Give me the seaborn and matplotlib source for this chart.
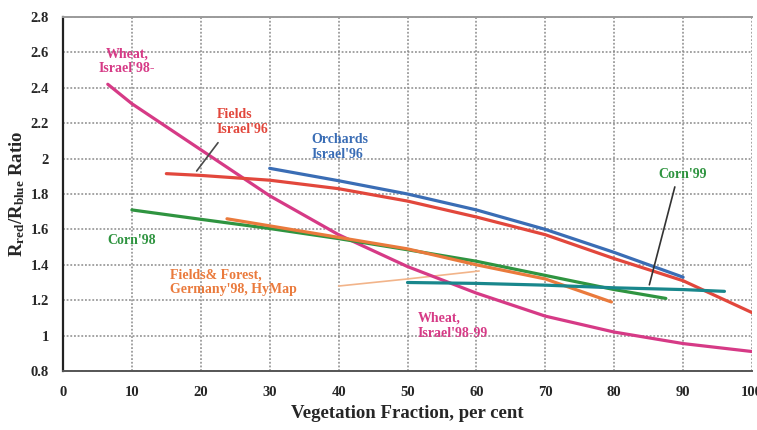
import matplotlib
matplotlib.use("Agg")
import matplotlib.pyplot as plt
import seaborn as sns
import pandas as pd

# Ratio of red to blue reflectance versus vegetation fraction
wheat_x = [6.5, 10, 20, 30, 40, 50, 60, 70, 80, 90, 100]
wheat_y = [2.42, 2.31, 2.05, 1.79, 1.57, 1.39, 1.24, 1.11, 1.02, 0.955, 0.91]

fields_x = [15, 20, 30, 40, 50, 60, 70, 80, 90, 100]
fields_y = [1.915, 1.905, 1.878, 1.83, 1.76, 1.67, 1.57, 1.435, 1.31, 1.13]

orchards_x = [30, 40, 50, 60, 70, 80, 90]
orchards_y = [1.945, 1.875, 1.80, 1.71, 1.60, 1.47, 1.33]

corn98_x = [10, 20, 30, 40, 50, 60, 70, 80, 87.5]
corn98_y = [1.71, 1.657, 1.605, 1.548, 1.485, 1.42, 1.34, 1.26, 1.21]

forest_x = [23.8, 30, 40, 50, 60, 70, 79.6]
forest_y = [1.66, 1.62, 1.555, 1.49, 1.40, 1.32, 1.19]

corn99_x = [50, 60, 70, 80, 90, 96]
corn99_y = [1.30, 1.295, 1.285, 1.27, 1.26, 1.25]

hymap_x = [40, 50, 60.4]
hymap_y = [1.28, 1.32, 1.365]

x_ticks = [0, 10, 20, 30, 40, 50, 60, 70, 80, 90, 100]
y_ticks = [0.8, 1.0, 1.2, 1.4, 1.6, 1.8, 2.0, 2.2, 2.4, 2.6, 2.8]
y_tick_labels = ["0.8", "1", "1.2", "1.4", "1.6", "1.8", "2", "2.2", "2.4", "2.6", "2.8"]

series = [
    ("Wheat 98-99", wheat_x, wheat_y),
    ("Fields 96", fields_x, fields_y),
    ("Orchards 96", orchards_x, orchards_y),
    ("Corn 98", corn98_x, corn98_y),
    ("Fields & Forest 98", forest_x, forest_y),
    ("Corn 99", corn99_x, corn99_y),
]
palette = {
    "Wheat 98-99": "#d63a86",
    "Fields 96": "#e2473c",
    "Orchards 96": "#3a6db5",
    "Corn 98": "#2f9440",
    "Fields & Forest 98": "#ea7a3c",
    "Corn 99": "#19878c",
}

df = pd.concat(
    [pd.DataFrame({"fraction": xs, "ratio": ys, "series": name}) for name, xs, ys in series],
    ignore_index=True,
)
df_hymap = pd.DataFrame({"fraction": hymap_x, "ratio": hymap_y})

sns.set_style("white")
plt.rcParams["font.family"] = ["Liberation Serif", "DejaVu Serif"]
plt.rcParams["mathtext.fontset"] = "custom"
plt.rcParams["mathtext.rm"] = "Liberation Serif:bold"
plt.rcParams["mathtext.it"] = "Liberation Serif:bold"
plt.rcParams["mathtext.bf"] = "Liberation Serif:bold"

fig = plt.figure(figsize=(7.57, 4.30), dpi=100)
ax = fig.add_axes([63 / 757, 1 - 371 / 430, (752 - 63) / 757, (371 - 17) / 430])

sns.lineplot(data=df_hymap, x="fraction", y="ratio", color="#f2b48a",
             linewidth=1.2, ax=ax, legend=False, zorder=3)
sns.lineplot(data=df, x="fraction", y="ratio", hue="series", palette=palette,
             linewidth=2.3, ax=ax, legend=False, sort=False, zorder=4)

ax.set_xlim(0, 100)
ax.set_ylim(0.8, 2.8)
ax.set_xticks(x_ticks)
ax.set_yticks(y_ticks)
ax.set_yticklabels(y_tick_labels)
ax.tick_params(axis="both", labelsize=10.5, length=4, width=1, color="#444444")
for lab in ax.get_xticklabels() + ax.get_yticklabels():
    lab.set_fontweight("bold")
ax.tick_params(axis="x", pad=7)
ax.tick_params(axis="y", pad=6)

ax.grid(True, linestyle=(0, (1.2, 1.2)), color="#8a8a8a", linewidth=1.1)
ax.set_axisbelow(True)

ax.spines["left"].set_color("#222222")
ax.spines["left"].set_linewidth(1.6)
ax.spines["bottom"].set_color("#555555")
ax.spines["bottom"].set_linewidth(1.4)
ax.spines["top"].set_color("#9a9a9a")
ax.spines["top"].set_linewidth(1.4)
ax.spines["right"].set_visible(False)

ax.set_xlabel("Vegetation Fraction, per cent", fontsize=13.5, fontweight="bold", labelpad=4)
ax.set_ylabel(r"$\mathrm{R_{red}/R_{blue}}$ Ratio", fontsize=13.5, fontweight="bold", labelpad=3)

lab_kw = dict(fontsize=10, fontweight="bold", va="center", linespacing=1.2)
ax.text(9.3, 2.55, "Wheat,\nIsrael'98-", color="#d63a86", ha="center", **lab_kw)
ax.text(22.3, 2.206, "Fields\nIsrael'96", color="#e2473c", ha="left", **lab_kw)
ax.text(36.1, 2.063, "Orchards\nIsrael'96", color="#3a6db5", ha="left", **lab_kw)
ax.text(90, 1.91, "Corn'99", color="#2f9440", ha="center", **lab_kw)
ax.text(9.9, 1.538, "Corn'98", color="#2f9440", ha="center", **lab_kw)
ax.text(15.5, 1.30, "Fields& Forest,\nGermany'98, HyMap", color="#ea7a3c", ha="left", **lab_kw)
ax.text(51.5, 1.055, "Wheat,\nIsrael'98-99", color="#d63a86", ha="left", **lab_kw)

# pointer lines from labels to their curves
ax.plot([22.5, 19.4], [2.09, 1.93], color="#4a4a4a", linewidth=1.2, zorder=5)
ax.plot([88.8, 85.1], [1.84, 1.287], color="#333333", linewidth=1.2, zorder=5)

fig.savefig("out.png", dpi=100)
